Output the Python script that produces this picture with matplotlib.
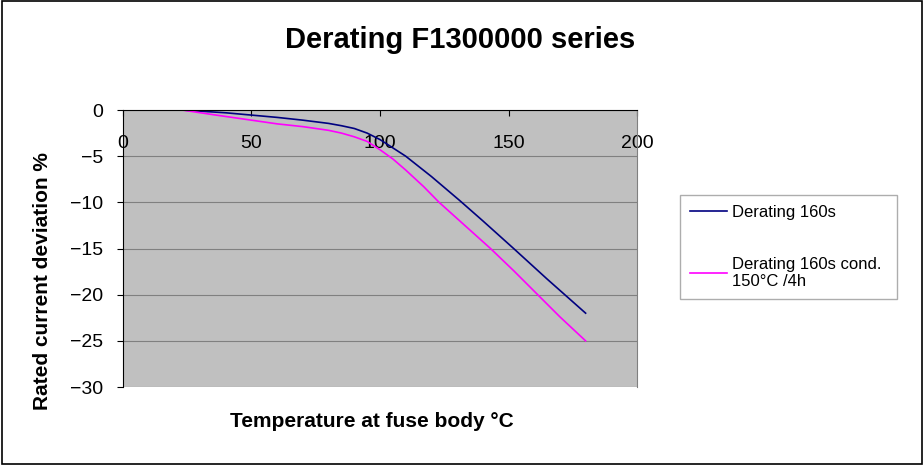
import matplotlib
matplotlib.use("Agg")
import matplotlib.pyplot as plt
from matplotlib.patches import Rectangle

plt.rcParams['font.family'] = ['Liberation Sans', 'DejaVu Sans']

# Valeurs
temp_160s = [23, 40, 50, 60, 70, 80, 85, 90, 95, 100, 105, 110, 120, 131, 140, 152, 165, 180]
derating_160s = [0, -0.3, -0.55, -0.8, -1.1, -1.45, -1.7, -2.0, -2.5, -3.2, -4.1, -5.0,
                 -7.2, -9.8, -12.0, -15.0, -18.3, -22.0]

temp_cond = [23, 35, 50, 60, 70, 80, 85, 90, 95, 100, 105, 110, 117, 123, 133, 143, 152,
             161, 170, 180]
derating_cond = [0, -0.5, -1.1, -1.5, -1.8, -2.2, -2.5, -2.9, -3.4, -4.3, -5.3, -6.5, -8.3,
                 -10.0, -12.5, -15.0, -17.4, -19.9, -22.4, -25.0]

x_ticks = [0, 50, 100, 150, 200]
y_ticks = [0, -5, -10, -15, -20, -25, -30]

fig = plt.figure(figsize=(9.24, 4.65), dpi=100)
ax = fig.add_axes([0.1331, 0.1677, 0.5563, 0.5957])
ax.set_facecolor('#c0c0c0')

ax.plot(temp_160s, derating_160s, color='#000080', lw=1.2, label='Derating 160s')
ax.plot(temp_cond, derating_cond, color='#ff00ff', lw=1.2,
        label='Derating 160s cond.\n150°C /4h')

ax.set_xlim(0, 200)
ax.set_ylim(-30, 0)
ax.set_xticks(x_ticks)
ax.set_yticks(y_ticks)

# axe des x en haut (y = 0), étiquettes dans la zone de tracé
ax.spines['bottom'].set_position(('data', 0))
ax.spines['bottom'].set_color('black')
ax.spines['top'].set_visible(False)
ax.spines['right'].set_color('#808080')
ax.spines['left'].set_color('black')
ax.tick_params(axis='x', direction='out', length=4, pad=14, labelsize=14)
ax.tick_params(axis='y', direction='out', length=4.3, pad=10, labelsize=14)

ax.yaxis.grid(True, color='#808080', lw=0.8)
ax.set_axisbelow(True)

fig.text(0.498, 0.896, 'Derating F1300000 series', ha='center', va='baseline',
         fontsize=21, fontweight='bold')
fig.text(0.402, 0.0824, 'Temperature at fuse body °C', ha='center', va='baseline',
         fontsize=15, fontweight='bold')
fig.text(0.0465, 0.3957, 'Rated current deviation %', ha='center', va='center',
         rotation=90, fontsize=15, fontweight='bold')

leg = fig.legend(loc='upper left', bbox_to_anchor=(0.7359, 0.3527, 0.2349, 0.2279),
                 mode='expand', fontsize=12, frameon=True, fancybox=False,
                 edgecolor='#999999', borderpad=0.6, handlelength=2.2,
                 handletextpad=0.3, labelspacing=2.2, borderaxespad=0)
leg.get_frame().set_linewidth(1)

# cadre autour de la figure
fig.patches.append(Rectangle((0.002, 0.003), 0.996, 0.994, transform=fig.transFigure,
                             fill=False, edgecolor='black', lw=1.2))

fig.savefig('out.png', dpi=100)
